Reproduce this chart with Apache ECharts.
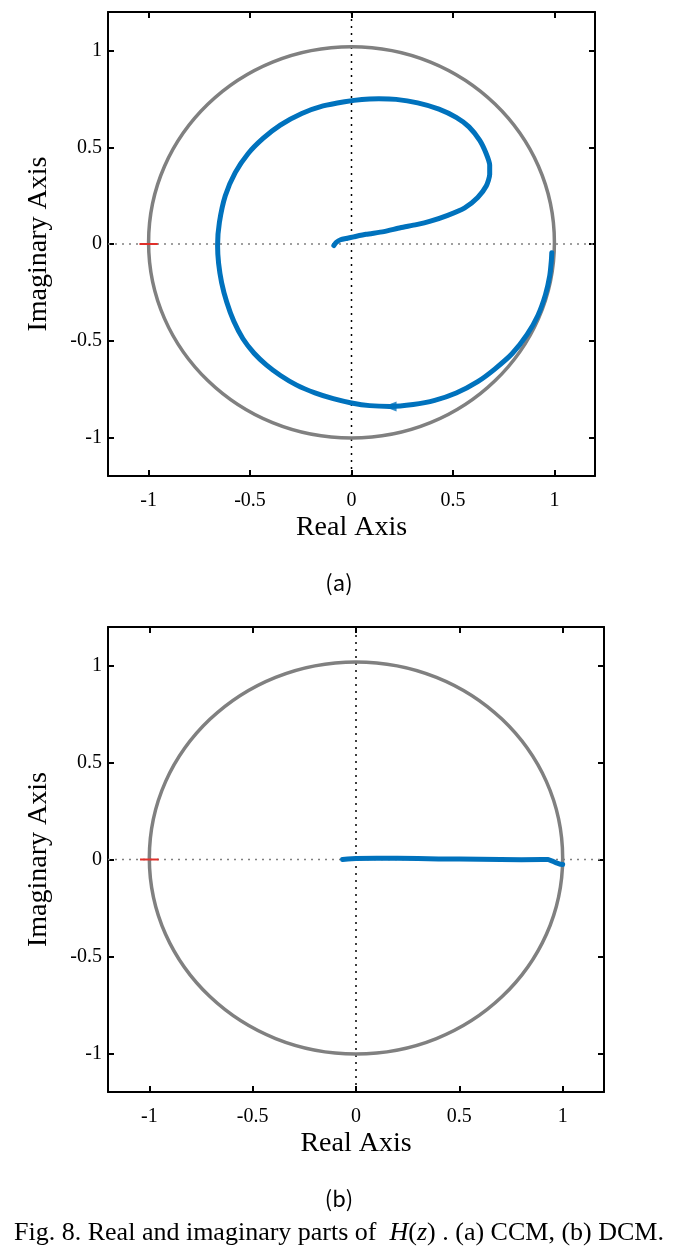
<!DOCTYPE html>
<html><head><meta charset="utf-8">
<script src="https://cdn.jsdelivr.net/npm/echarts@6/dist/echarts.min.js"></script>
<style>html,body{margin:0;padding:0;background:#fff}#c{width:675px;height:1256px}</style>
</head><body><div id="c"></div>
<script>
// ---- data ----
const tickValues = [-1, -0.5, 0, 0.5, 1];
const axisMin = -1.2, axisMax = 1.2;
const unitCircle = [[0, 0.008, 1.0, 1.012]]; // cx, cy, rx, ry
const criticalPoint = [[-1.045, 0], [-0.955, 0]];
const realAxisLine = [[axisMin, 0], [axisMax, 0]];
const imagAxisLine = [[0, axisMin], [0, axisMax]];
const nyquistCCM = [[-0.087,-0.008],[-0.075,0.008],[-0.054,0.022],[-0.02,0.03],[0.011,0.037],[0.072,0.05],[0.159,0.064],[0.241,0.084],[0.32,0.1],[0.389,0.118],[0.474,0.148],[0.558,0.187],[0.622,0.241],[0.664,0.3],[0.681,0.359],[0.681,0.408],[0.664,0.467],[0.632,0.536],[0.579,0.606],[0.516,0.655],[0.431,0.698],[0.326,0.73],[0.22,0.748],[0.135,0.751],[0.051,0.748],[-0.034,0.736],[-0.14,0.714],[-0.245,0.675],[-0.351,0.615],[-0.436,0.546],[-0.51,0.467],[-0.573,0.369],[-0.622,0.25],[-0.651,0.112],[-0.66,-0.006],[-0.655,-0.1],[-0.64,-0.2],[-0.615,-0.3],[-0.58,-0.4],[-0.535,-0.49],[-0.48,-0.565],[-0.42,-0.625],[-0.35,-0.68],[-0.27,-0.73],[-0.18,-0.77],[-0.09,-0.8],[0.0,-0.822],[0.09,-0.836],[0.19,-0.84],[0.304,-0.83],[0.41,-0.809],[0.516,-0.771],[0.622,-0.712],[0.706,-0.647],[0.791,-0.568],[0.865,-0.469],[0.918,-0.371],[0.956,-0.262],[0.977,-0.164],[0.985,-0.085],[0.987,-0.045]];
const arrowCCM = [[0.19, -0.84]];
const nyquistDCM = [[-0.065,0.0],[-0.04,0.003],[0.0,0.005],[0.1,0.007],[0.2,0.007],[0.3,0.005],[0.4,0.003],[0.5,0.002],[0.6,0.001],[0.7,0.0],[0.8,-0.001],[0.9,0.0],[0.93,0.0],[0.95,-0.008],[0.97,-0.018],[0.99,-0.025],[1.0,-0.026]];
const panelLabels = ['(a)', '(b)'];
const xName = 'Real Axis', yName = 'Imaginary Axis';

// ---- styles ----
const SERIF = '"Liberation Serif", "Times New Roman", serif';
const BLUE = '#0072BD', GRAY = '#808080', RED = '#E0302A';

function xAx(grid, pos, main) {
  return {
    type: 'value', gridIndex: grid, position: pos, min: axisMin, max: axisMax,
    name: main ? xName : '', nameLocation: 'middle', nameGap: 38,
    nameTextStyle: {fontFamily: SERIF, fontSize: 28, color: '#000'},
    axisLine: {show: true, onZero: false, lineStyle: {color: '#000', width: 2}},
    axisTick: {show: true, inside: true, length: 6, customValues: tickValues, lineStyle: {color: '#000', width: 2}},
    axisLabel: {show: main, customValues: tickValues, margin: 15, fontFamily: SERIF, fontSize: 20, color: '#000'},
    splitLine: {show: false}
  };
}
function yAx(grid, pos, main) {
  return {
    type: 'value', gridIndex: grid, position: pos, min: axisMin, max: axisMax,
    name: main ? yName : '', nameLocation: 'middle', nameGap: 55,
    nameTextStyle: {fontFamily: SERIF, fontSize: 28, color: '#000'},
    axisLine: {show: true, onZero: false, lineStyle: {color: '#000', width: 2}},
    axisTick: {show: true, inside: true, length: 6, customValues: tickValues, lineStyle: {color: '#000', width: 2}},
    axisLabel: {show: main, customValues: tickValues, margin: 6, fontFamily: SERIF, fontSize: 20, color: '#000'},
    splitLine: {show: false}
  };
}
function panelSeries(ax, curve, arrow) {
  const base = {xAxisIndex: ax, yAxisIndex: ax, silent: true, animation: false};
  const s = [
    Object.assign({type: 'line', data: realAxisLine, symbol: 'none', lineStyle: {color: GRAY, width: 1.5, type: [2, 5]}, z: 1}, base),
    Object.assign({type: 'line', data: imagAxisLine, symbol: 'none', lineStyle: {color: '#000', width: 1.5, type: [2, 5]}, z: 1}, base),
    Object.assign({type: 'custom', data: unitCircle, z: 2,
      renderItem: function (params, api) {
        const c = api.coord([api.value(0), api.value(1)]);
        const sz = api.size([api.value(2), api.value(3)]);
        return {type: 'ellipse', shape: {cx: c[0], cy: c[1], rx: sz[0], ry: sz[1]},
          style: {fill: null, stroke: GRAY, lineWidth: 3.5}};
      }}, base),
    Object.assign({type: 'line', data: criticalPoint, symbol: 'none', lineStyle: {color: RED, width: 2}, z: 3}, base),
    Object.assign({type: 'line', data: curve, symbol: 'none', smooth: ax === 0 ? 0.2 : false, lineStyle: {color: BLUE, width: 5, cap: 'round', join: 'round'}, z: 4}, base)
  ];
  if (arrow) s.push(Object.assign({type: 'scatter', data: arrow, symbol: 'triangle', symbolRotate: 90, symbolSize: [10, 13], itemStyle: {color: BLUE}, z: 5}, base));
  return s;
}

const chart = echarts.init(document.getElementById('c'), null, {renderer: 'canvas'});
chart.setOption({
  animation: false,
  backgroundColor: '#fff',
  grid: [
    {left: 108, top: 12, width: 487, height: 464},
    {left: 108, top: 627, width: 496, height: 465}
  ],
  xAxis: [xAx(0, 'bottom', true), xAx(0, 'top', false), xAx(1, 'bottom', true), xAx(1, 'top', false)],
  yAxis: [yAx(0, 'left', true), yAx(0, 'right', false), yAx(1, 'left', true), yAx(1, 'right', false)],
  series: [].concat(panelSeries(0, nyquistCCM, arrowCCM), panelSeries(2, nyquistDCM, null)),
  graphic: [
    {type: 'text', x: 339, y: 583, style: {text: panelLabels[0], fontFamily: '"Noto Sans CJK KR", sans-serif', fontSize: 22, fill: '#000', align: 'center', verticalAlign: 'middle'}},
    {type: 'text', x: 339, y: 1199, style: {text: panelLabels[1], fontFamily: '"Noto Sans CJK KR", sans-serif', fontSize: 22, fill: '#000', align: 'center', verticalAlign: 'middle'}},
    {type: 'text', x: 339, y: 1233, style: {
      text: 'Fig. 8. Real and imaginary parts of  {it|H}({it|z}) . (a) CCM, (b) DCM.',
      fontFamily: SERIF, fontSize: 26, fill: '#000', align: 'center', verticalAlign: 'middle',
      rich: {it: {fontFamily: SERIF, fontSize: 26, fontStyle: 'italic', fill: '#000'}}
    }}
  ]
});
</script></body></html>
